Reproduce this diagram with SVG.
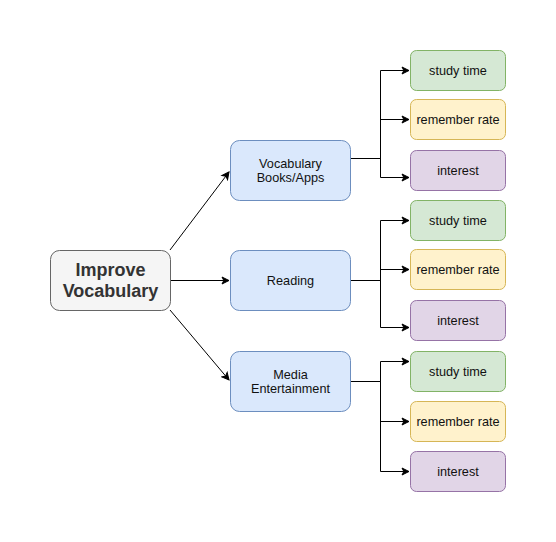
<svg xmlns="http://www.w3.org/2000/svg" width="556" height="542" viewBox="0 0 556 542">
<defs>
<marker id="arr" markerWidth="10" markerHeight="10" refX="8" refY="5" orient="auto" markerUnits="userSpaceOnUse">
<path d="M1,1.5 L8,5 L1,8.5 L2.8,5 Z" fill="#000" stroke="#000" stroke-width="1"/>
</marker>
</defs>
<style>
text{font-family:"Liberation Sans",Arial,Helvetica,sans-serif;font-size:12.7px;fill:#111;text-anchor:middle;dominant-baseline:central}
.root rect{fill:#f5f5f5;stroke:#666666}
.root text{font-size:18px;font-weight:bold;fill:#333333}
.mid rect{fill:#dae8fc;stroke:#6c8ebf}
.g rect{fill:#d5e8d4;stroke:#82b366}
.y rect{fill:#fff2cc;stroke:#d6b656}
.p rect{fill:#e1d5e7;stroke:#9673a6}
#edges path{fill:none;stroke:#000;stroke-width:1;marker-end:url(#arr)}
</style>
<rect width="556" height="542" fill="#fff"/>
<g id="edges">
<path d="M170,250 L229,172"/>
<path d="M170,280.5 L229,280.5"/>
<path d="M170,310 L229,380"/>
<path d="M350,158.5 H380.5 V70.5 H409"/>
<path d="M350,158.5 H380.5 V119.5 H409"/>
<path d="M350,158.5 H380.5 V177.5 H409"/>
<path d="M350,280.5 H380.5 V220.5 H409"/>
<path d="M350,280.5 H380.5 V269.5 H409"/>
<path d="M350,280.5 H380.5 V327.5 H409"/>
<path d="M350,381.5 H380.5 V361.5 H409"/>
<path d="M350,381.5 H380.5 V421.5 H409"/>
<path d="M350,381.5 H380.5 V471.5 H409"/>
</g>
<g id="root" class="root"><rect x="50.5" y="250.5" width="120" height="60" rx="9"/><text x="110.5" y="270">Improve</text><text x="110.5" y="291">Vocabulary</text></g>
<g id="books" class="mid"><rect x="230.5" y="140.5" width="120" height="60" rx="9"/><text x="290.5" y="163.5">Vocabulary</text><text x="290.5" y="177.5">Books/Apps</text></g>
<g id="reading" class="mid"><rect x="230.5" y="250.5" width="120" height="60" rx="9"/><text x="290.5" y="280.5">Reading</text></g>
<g id="media" class="mid"><rect x="230.5" y="351.5" width="120" height="60" rx="9"/><text x="290.5" y="374.5">Media</text><text x="290.5" y="388.5">Entertainment</text></g>
<g id="b_study" class="g"><rect x="410.5" y="50.5" width="95" height="40" rx="6"/><text x="458" y="70.5">study time</text></g>
<g id="b_remember" class="y"><rect x="410.5" y="99.5" width="95" height="40" rx="6"/><text x="458" y="119.5">remember rate</text></g>
<g id="b_interest" class="p"><rect x="410.5" y="150.5" width="95" height="40" rx="6"/><text x="458" y="170.5">interest</text></g>
<g id="r_study" class="g"><rect x="410.5" y="200.5" width="95" height="40" rx="6"/><text x="458" y="220.5">study time</text></g>
<g id="r_remember" class="y"><rect x="410.5" y="249.5" width="95" height="40" rx="6"/><text x="458" y="269.5">remember rate</text></g>
<g id="r_interest" class="p"><rect x="410.5" y="300.5" width="95" height="40" rx="6"/><text x="458" y="320.5">interest</text></g>
<g id="m_study" class="g"><rect x="410.5" y="351.5" width="95" height="40" rx="6"/><text x="458" y="371.5">study time</text></g>
<g id="m_remember" class="y"><rect x="410.5" y="401.5" width="95" height="40" rx="6"/><text x="458" y="421.5">remember rate</text></g>
<g id="m_interest" class="p"><rect x="410.5" y="451.5" width="95" height="40" rx="6"/><text x="458" y="471.5">interest</text></g>
</svg>
